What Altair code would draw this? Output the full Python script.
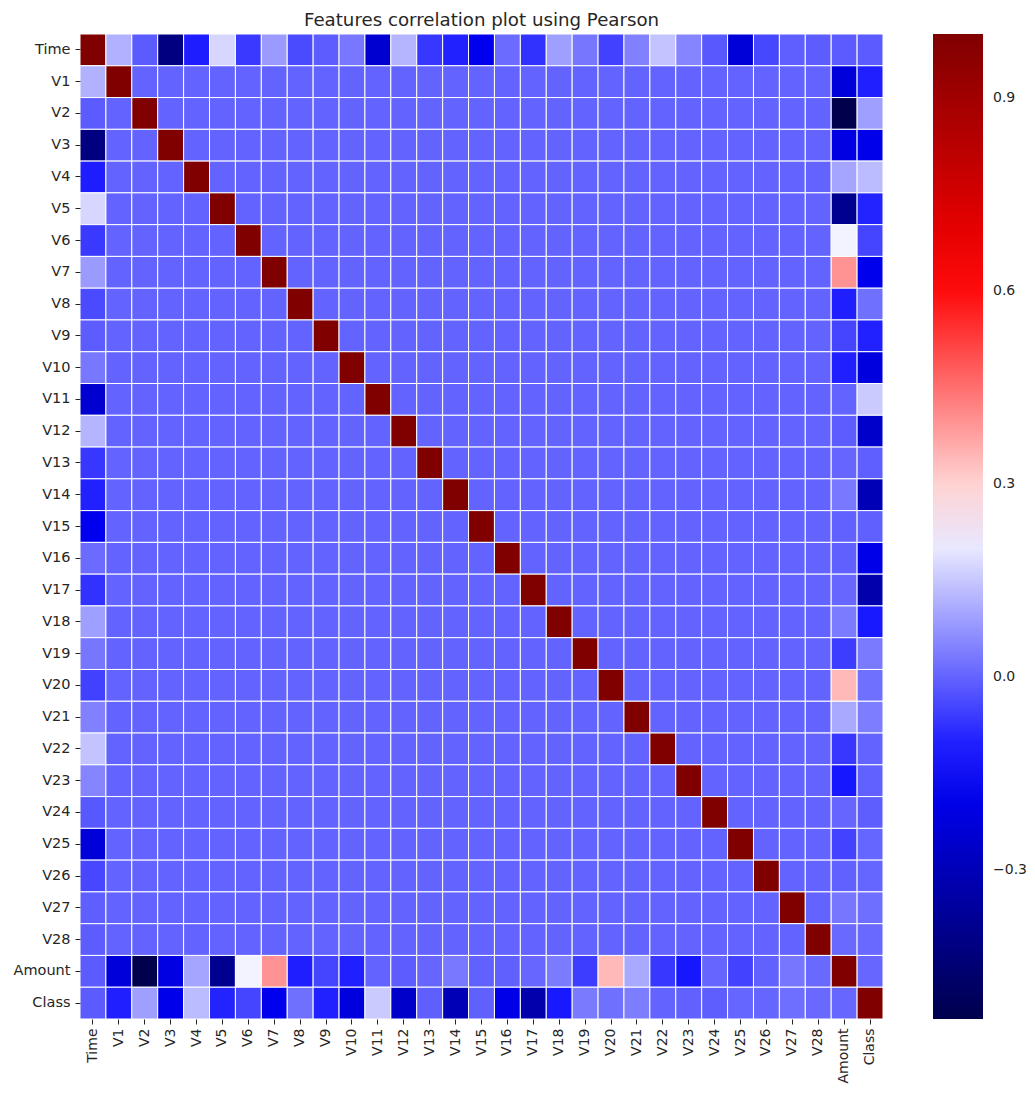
import altair as alt
import pandas as pd

features = ["Time"] + [f"V{i}" for i in range(1, 29)] + ["Amount", "Class"]

# correlation of Time with V1..V28 (Time-Time = 1)
time_v = [0.117, -0.011, -0.420, -0.105, 0.173, -0.063, 0.085, -0.037, -0.009,
          0.031, -0.248, 0.124, -0.066, -0.099, -0.183, 0.012, -0.073, 0.090,
          0.029, -0.051, 0.045, 0.144, 0.051, -0.016, -0.233, -0.041, -0.005, -0.009]
time_amount = -0.011
time_class = -0.012

# correlation of Amount with V1..V28
amount_v = [-0.228, -0.531, -0.211, 0.099, -0.386, 0.216, 0.397, -0.103, -0.044,
            -0.102, 0.000, -0.010, 0.005, 0.034, -0.003, -0.004, 0.007, 0.036,
            -0.056, 0.339, 0.106, -0.065, -0.113, 0.005, -0.048, -0.003, 0.029, 0.010]
amount_class = 0.006

# correlation of Class with V1..V28
class_v = [-0.101, 0.091, -0.193, 0.133, -0.095, -0.044, -0.187, 0.020, -0.098,
           -0.217, 0.155, -0.261, -0.005, -0.303, -0.004, -0.197, -0.326, -0.111,
           0.035, 0.020, 0.040, 0.001, -0.003, -0.007, 0.003, 0.004, 0.018, 0.010]

# V1..V28 are PCA components: mutually uncorrelated (0 off the diagonal)
n = len(features)
iA, iC = n - 2, n - 1
M = [[0.0] * n for _ in range(n)]
for i in range(n):
    M[i][i] = 1.0
for k in range(28):
    j = k + 1
    M[0][j] = M[j][0] = time_v[k]
    M[iA][j] = M[j][iA] = amount_v[k]
    M[iC][j] = M[j][iC] = class_v[k]
M[0][iA] = M[iA][0] = time_amount
M[0][iC] = M[iC][0] = time_class
M[iA][iC] = M[iC][iA] = amount_class

rows = []
for i, r in enumerate(features):
    for j, c in enumerate(features):
        rows.append({"row": r, "col": c, "corr": M[i][j]})
df = pd.DataFrame(rows)

vmin = min(df["corr"])
vmax = 1.0
span = vmax - vmin
domain = [vmin, vmin + 0.25 * span, vmin + 0.5 * span, vmin + 0.75 * span, vmax]
seismic = ["#00004d", "#0000ff", "#ffffff", "#ff0000", "#800000"]

FONT = "DejaVu Sans"
TXT = "#262626"

chart = alt.Chart(df).mark_rect(stroke="white", strokeWidth=1).encode(
    x=alt.X("col:N", sort=features, title=None,
            axis=alt.Axis(labelAngle=-90, domain=False, tickSize=5, tickColor=TXT,
                          labelPadding=4, labelFontSize=14, labelColor=TXT,
                          labelFont=FONT, labelBaseline="middle")),
    y=alt.Y("row:N", sort=features, title=None,
            axis=alt.Axis(domain=False, tickSize=5, tickColor=TXT, labelPadding=5,
                          labelFontSize=14.5, labelColor=TXT, labelFont=FONT)),
    color=alt.Color("corr:Q",
                    scale=alt.Scale(domain=domain, range=seismic, interpolate="rgb"),
                    legend=alt.Legend(title=None, orient="right", offset=50,
                                      gradientLength=985, gradientThickness=50,
                                      gradientStrokeWidth=0,
                                      values=[-0.3, 0.0, 0.3, 0.6, 0.9], format=".1f",
                                      labelFontSize=14, labelColor=TXT, labelFont=FONT,
                                      labelOffset=10, direction="vertical")),
).properties(
    width=1019, height=985,
    autosize=alt.AutoSizeParams(type="fit-x", contains="padding"),
    padding={"left": 5, "top": 3, "right": 0, "bottom": 5},
    title=alt.TitleParams("Features correlation plot using Pearson", fontSize=18.2,
                          font=FONT, color=TXT, fontWeight="normal", offset=3),
).configure_view(stroke=None)

chart.save("out.html", embed_options={"renderer": "svg", "actions": False})
